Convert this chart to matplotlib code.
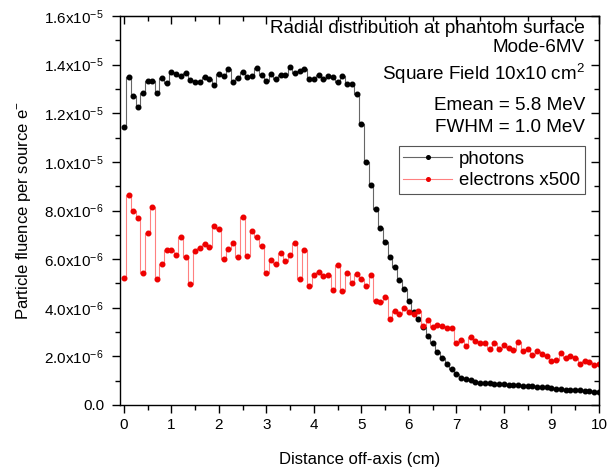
import numpy as np
import matplotlib
matplotlib.use("Agg")
import matplotlib.pyplot as plt
from matplotlib.ticker import MultipleLocator

plt.rcParams['font.family'] = ['Liberation Sans', 'DejaVu Sans']
plt.rcParams['mathtext.fontset'] = 'custom'
plt.rcParams['mathtext.rm'] = 'Liberation Sans'
plt.rcParams['mathtext.it'] = 'Liberation Sans'

# distance off-axis (cm), 0.0 .. 10.0 step 0.1
distance = np.round(np.arange(0, 101) * 0.1, 1)

# photon fluence (units of 1e-6)
photons_e6 = [
    11.43, 13.50, 12.70, 12.26, 12.84, 13.33, 13.33, 12.84, 13.47, 13.25,
    13.69, 13.63, 13.53, 13.66, 13.36, 13.28, 13.28, 13.50, 13.41, 13.17,
    13.63, 13.55, 13.83, 13.28, 13.44, 13.69, 13.50, 13.53, 13.88, 13.58,
    13.33, 13.61, 13.41, 13.58, 13.58, 13.91, 13.66, 13.74, 13.80, 13.39,
    13.41, 13.58, 13.41, 13.53, 13.50, 13.28, 13.53, 13.22, 13.22, 12.78,
    11.57, 9.99, 9.03, 8.07, 7.29, 6.72, 6.07, 5.66, 5.14, 4.76,
    4.29, 3.81, 3.53, 3.19, 2.82, 2.57, 2.20, 1.95, 1.68, 1.47,
    1.27, 1.10, 1.06, 1.02, 0.96, 0.92, 0.89, 0.90, 0.88, 0.85,
    0.88, 0.82, 0.82, 0.81, 0.78, 0.78, 0.77, 0.76, 0.74, 0.76,
    0.71, 0.66, 0.65, 0.63, 0.63, 0.61, 0.61, 0.58, 0.56, 0.55,
    0.52,
]

# electron fluence x500 (units of 1e-6)
electrons_e6 = [
    5.22, 8.63, 8.00, 7.70, 5.42, 7.07, 8.16, 5.18, 5.80, 6.39,
    6.38, 6.16, 6.90, 6.10, 4.98, 6.32, 6.46, 6.63, 6.49, 7.38,
    7.23, 6.01, 6.43, 6.68, 6.10, 7.72, 6.14, 7.15, 6.90, 6.56,
    5.44, 5.97, 5.80, 6.24, 5.94, 6.19, 6.67, 5.17, 6.38, 4.89,
    5.33, 5.48, 5.32, 5.33, 4.73, 5.75, 4.67, 5.43, 5.02, 5.39,
    5.20, 4.91, 5.36, 4.29, 4.22, 4.43, 3.53, 3.85, 3.74, 4.01,
    3.84, 3.74, 3.88, 3.26, 3.49, 3.22, 3.29, 3.26, 3.16, 3.16,
    2.57, 2.68, 2.43, 2.78, 2.64, 2.53, 2.53, 2.30, 2.56, 2.30,
    2.47, 2.36, 2.25, 2.61, 2.23, 2.30, 2.06, 2.23, 2.09, 2.02,
    1.79, 1.84, 2.12, 1.95, 2.01, 1.92, 1.70, 1.81, 1.75, 1.65,
    1.70,
]

y_ticks = [0.0, 2e-6, 4e-6, 6e-6, 8e-6, 1.0e-5, 1.2e-5, 1.4e-5, 1.6e-5]
y_tick_labels = ['0.0', r'2.0x10$^{-6}$', r'4.0x10$^{-6}$', r'6.0x10$^{-6}$',
                 r'8.0x10$^{-6}$', r'1.0x10$^{-5}$', r'1.2x10$^{-5}$',
                 r'1.4x10$^{-5}$', r'1.6x10$^{-5}$']
x_ticks = list(range(0, 11))

annotations = ['Radial distribution at phantom surface', 'Mode-6MV',
               r'Square Field 10x10 cm$^{2}$', 'Emean = 5.8 MeV',
               'FWHM = 1.0 MeV']

photons = np.array(photons_e6) * 1e-6
electrons = np.array(electrons_e6) * 1e-6

W, H = 611, 468
fig = plt.figure(figsize=(W / 100, H / 100), dpi=100)
ax = fig.add_axes([120 / W, 1 - 405 / H, (599 - 120) / W, (405 - 16) / H])

ax.plot(distance, photons, drawstyle='steps-mid', color='#666666', lw=0.8,
        marker='o', ms=3.3, mfc='black', mec='black', label='photons')
ax.plot(distance, electrons, drawstyle='steps-mid', color='#ff8080', lw=0.8,
        marker='o', ms=3.3, mfc='#ee0000', mec='#ee0000', label='electrons x500')

ax.set_xlim(-0.08, 10)
ax.set_ylim(0, 1.6e-5)
ax.set_xticks(x_ticks)
ax.xaxis.set_minor_locator(MultipleLocator(0.5))
ax.set_yticks(y_ticks)
ax.set_yticklabels(y_tick_labels)
ax.yaxis.set_minor_locator(MultipleLocator(1e-6))

for s in ax.spines.values():
    s.set_linewidth(1.0)

ax.tick_params(which='both', direction='out', top=False, right=False,
               labelsize=11, width=1.0)
ax.tick_params(which='major', length=6)
ax.tick_params(which='minor', length=3.5)
ax.tick_params(axis='y', pad=5.5)

secx = ax.secondary_xaxis('top')
secx.set_xticks(x_ticks)
secx.xaxis.set_minor_locator(MultipleLocator(0.5))
secx.tick_params(which='both', direction='in', labeltop=False, width=1.0)
secx.tick_params(which='major', length=6)
secx.tick_params(which='minor', length=3.5)

secy = ax.secondary_yaxis('right')
secy.set_yticks(y_ticks)
secy.yaxis.set_minor_locator(MultipleLocator(1e-6))
secy.tick_params(which='both', direction='in', labelright=False, width=1.0)
secy.tick_params(which='major', length=6)
secy.tick_params(which='minor', length=3.5)

ax.set_xlabel('Distance off-axis (cm)', fontsize=12, labelpad=14)
ax.set_ylabel(r'Particle fluence per source e$^{-}$', fontsize=12, labelpad=8)

baselines = [33, 52.5, 80, 109.5, 132]
for txt, yp in zip(annotations, baselines):
    fig.text(585 / W, 1 - yp / H, txt, ha='right', va='baseline', fontsize=13.6)

leg = ax.legend(loc='upper right', bbox_to_anchor=(585 / W, 1 - 146 / H),
                bbox_transform=fig.transFigure, borderaxespad=0,
                fontsize=13.4, numpoints=1, handlelength=2.6, handletextpad=0.4,
                borderpad=0.25, labelspacing=0.25, fancybox=False,
                edgecolor='#555555', framealpha=1)
leg.get_frame().set_linewidth(0.8)
for h in leg.legend_handles:
    h.set_markersize(2.6)

fig.savefig('out.png', dpi=100)
